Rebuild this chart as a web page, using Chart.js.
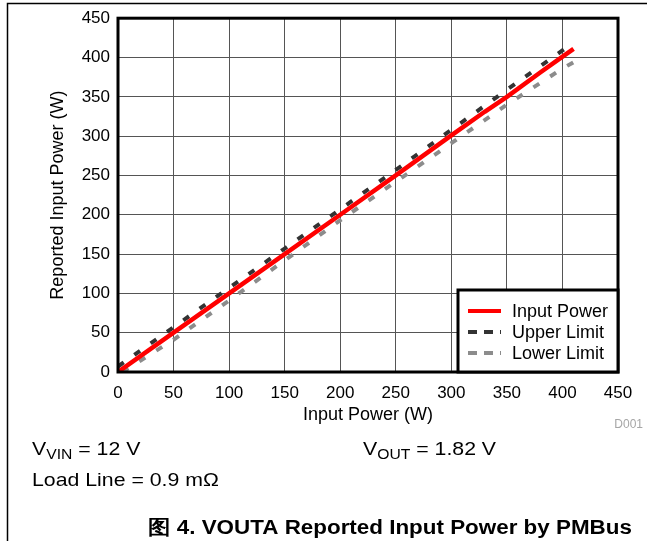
<!DOCTYPE html>
<html>
<head>
<meta charset="utf-8">
<script src="https://cdn.jsdelivr.net/npm/chart.js@4.4.1/dist/chart.umd.min.js"></script>
<style>
  html, body { margin: 0; padding: 0; background: #fff; }
  #wrap { position: absolute; left: 0; top: 0; width: 647px; height: 541px; }
</style>
</head>
<body>
<div id="wrap"><canvas id="Canvas-Main" width="647" height="541"></canvas></div>
<script>
// values
var xTicks = [0, 50, 100, 150, 200, 250, 300, 350, 400, 450];
var yTicks = [0, 50, 100, 150, 200, 250, 300, 350, 400, 450];

var inputX = [0, 50, 100, 150, 200, 250, 300, 330, 350, 380, 395, 410];
var inputY = [0, 50, 100, 150, 200, 250, 301, 331, 350, 381, 396, 411];

var upperX = [0, 50, 100, 150, 200, 250, 300, 350, 400, 410];
var upperY = [7, 57, 107, 157, 207, 257, 308, 359, 409, 419];

var lowerX = [4, 50, 100, 150, 200, 250, 300, 350, 400, 410];
var lowerY = [0, 41, 91, 142, 193, 242, 291, 340, 386, 394];

var labels = ['Input Power', 'Upper Limit', 'Lower Limit'];

function toPoints(xs, ys) {
    return xs.map(function (x, i) { return { x: x, y: ys[i] }; });
}

var FONT = 'Arial, "Liberation Sans", sans-serif';
var WIDE = 1.12; // notes under the chart are set a bit wider than the chart text

// axis titles, frame, legend and notes under the chart
var extras = {
    id: 'extras',
    afterDraw: function (chart) {
        var ctx = chart.ctx;
        var a = chart.chartArea;
        ctx.save();

        // outer frame (top and left only)
        ctx.strokeStyle = '#000';
        ctx.lineWidth = 1.5;
        ctx.beginPath();
        ctx.moveTo(647, 3.5);
        ctx.lineTo(7.5, 3.5);
        ctx.lineTo(7.5, 541);
        ctx.stroke();

        // plot border
        ctx.lineWidth = 3;
        ctx.strokeRect(a.left, a.top, a.right - a.left, a.bottom - a.top);

        // axis titles
        ctx.fillStyle = '#000';
        ctx.font = '18px ' + FONT;
        ctx.textAlign = 'center';
        ctx.textBaseline = 'alphabetic';
        ctx.fillText('Input Power (W)', (a.left + a.right) / 2, 420);
        ctx.save();
        ctx.translate(63, (a.top + a.bottom) / 2);
        ctx.rotate(-Math.PI / 2);
        ctx.fillText('Reported Input Power (W)', 0, 0);
        ctx.restore();

        // legend
        var lx = 458, ly = 290, lw = a.right - lx, lh = a.bottom - ly;
        ctx.fillStyle = '#fff';
        ctx.fillRect(lx, ly, lw, lh);
        ctx.lineWidth = 3;
        ctx.strokeStyle = '#000';
        ctx.strokeRect(lx, ly, lw, lh);
        ctx.font = '18px ' + FONT;
        ctx.textAlign = 'left';
        ctx.textBaseline = 'middle';
        chart.data.datasets.forEach(function (ds, i) {
            var yy = 311 + i * 21;
            ctx.strokeStyle = ds.borderColor;
            ctx.lineWidth = 4;
            ctx.setLineDash(i === 0 ? [] : [9, 7]);
            ctx.beginPath();
            ctx.moveTo(468, yy);
            ctx.lineTo(501, yy);
            ctx.stroke();
            ctx.setLineDash([]);
            ctx.fillStyle = '#000';
            ctx.fillText(ds.label, 512, yy + 1);
        });

        // figure id
        ctx.fillStyle = '#a6a6a6';
        ctx.font = '12px ' + FONT;
        ctx.textAlign = 'right';
        ctx.textBaseline = 'alphabetic';
        ctx.fillText('D001', 643, 428);

        // notes
        ctx.fillStyle = '#000';
        ctx.textAlign = 'left';
        function wideText(txt, x, y) {
            ctx.save();
            ctx.translate(x, y);
            ctx.scale(WIDE, 1);
            ctx.fillText(txt, 0, 0);
            ctx.restore();
            return ctx.measureText(txt).width * WIDE;
        }
        function withSub(x, y, main, sub, rest) {
            ctx.font = '19px ' + FONT;
            x += wideText(main, x, y);
            ctx.font = '14px ' + FONT;
            x += wideText(sub, x, y + 4);
            ctx.font = '19px ' + FONT;
            wideText(rest, x, y);
        }
        withSub(32, 455, 'V', 'VIN', ' = 12 V');
        withSub(363, 455, 'V', 'OUT', ' = 1.82 V');
        ctx.font = '19px ' + FONT;
        wideText('Load Line = 0.9 m\u03A9', 32, 486);

        ctx.font = 'bold 20px ' + FONT;
        var cap = '\u56FE 4. VOUTA Reported Input Power by PMBus';
        var cw = ctx.measureText(cap).width * WIDE;
        wideText(cap, 390 - cw / 2, 534);

        ctx.restore();
    }
};

var ctx = document.getElementById('Canvas-Main').getContext('2d');
var myChart = new Chart(ctx, {
    type: 'line',
    data: {
        datasets: [
            {
                label: labels[0],
                data: toPoints(inputX, inputY),
                borderColor: '#ff0000',
                backgroundColor: '#ff0000',
                borderWidth: 4.5,
                pointRadius: 0,
                tension: 0,
                fill: false
            },
            {
                label: labels[1],
                data: toPoints(upperX, upperY),
                borderColor: '#333333',
                backgroundColor: '#333333',
                borderWidth: 4,
                borderDash: [7, 13],
                pointRadius: 0,
                tension: 0,
                fill: false
            },
            {
                label: labels[2],
                data: toPoints(lowerX, lowerY),
                borderColor: '#8c8c8c',
                backgroundColor: '#8c8c8c',
                borderWidth: 4,
                borderDash: [7, 13],
                pointRadius: 0,
                tension: 0,
                fill: false
            }
        ]
    },
    options: {
        responsive: false,
        animation: false,
        layout: {
            padding: { top: 18, right: 29, left: 0, bottom: 0 }
        },
        plugins: {
            legend: { display: false },
            tooltip: { enabled: false }
        },
        scales: {
            x: {
                type: 'linear',
                min: xTicks[0],
                max: xTicks[xTicks.length - 1],
                afterBuildTicks: function (scale) {
                    scale.ticks = xTicks.map(function (v) { return { value: v }; });
                },
                afterFit: function (scale) { scale.height = 169; },
                ticks: {
                    color: '#000',
                    font: { family: FONT, size: 17 },
                    padding: 11,
                    maxRotation: 0
                },
                grid: { color: '#555', lineWidth: 1, drawTicks: false },
                border: { display: false }
            },
            y: {
                type: 'linear',
                min: yTicks[0],
                max: yTicks[yTicks.length - 1],
                afterBuildTicks: function (scale) {
                    scale.ticks = yTicks.map(function (v) { return { value: v }; });
                },
                afterFit: function (scale) { scale.width = 118; },
                ticks: {
                    color: '#000',
                    font: { family: FONT, size: 17 },
                    padding: 8
                },
                grid: { color: '#555', lineWidth: 1, drawTicks: false },
                border: { display: false }
            }
        }
    },
    plugins: [extras]
});
</script>
</body>
</html>
